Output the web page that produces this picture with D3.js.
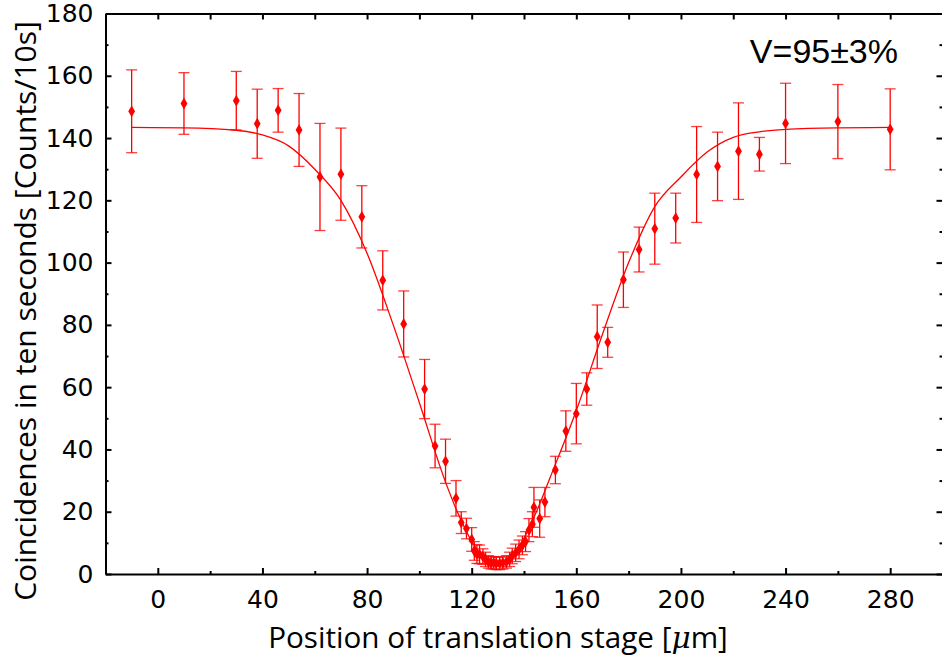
<!DOCTYPE html>
<html>
<head>
<meta charset="utf-8">
<script src="https://cdn.jsdelivr.net/npm/d3@7"></script>
<style>
    body { margin: 0; background: #fff; }
    .tick-label { font-family: 'DejaVu Sans', sans-serif; font-size: 25px; fill: #000; }
    .axis-title { font-family: 'Open Sans', 'DejaVu Sans', sans-serif; fill: #000; }
</style>
</head>
<body>
<div id="chart"></div>
<script>
// measured points: stage position [um], coincidences, error
const position = [-10, 10, 30, 38, 46, 54, 62, 70, 78, 86, 94, 102, 106, 110, 114, 116, 118, 120,
    121, 122, 123, 124.3, 125.3, 126.4, 127.4, 128.4, 129.4, 130.7, 131.9, 133.3, 134.5, 135.5,
    136.8, 138.1, 139.4, 140.6, 141.9, 143.2, 143.8, 146, 148, 152, 156, 160, 164, 168, 172, 178,
    184, 190, 198, 206, 214, 222, 230, 240, 260, 280];
const counts = [148.6, 151.1, 152.0, 144.6, 148.9, 142.6, 127.5, 128.4, 114.7, 94.3, 80.3, 59.4, 41.1, 36.2, 24.3, 16.5, 14.6, 11.1,
    7.4, 6.4, 6.3, 5.6, 4.7, 3.9, 3.6, 3.6, 3.4, 3.4, 3.6, 3.9, 4.7, 5.8,
    6.8, 7.9, 9.2, 10.4, 14.1, 16.0, 21.4, 17.8, 23.1, 33.4, 45.9, 51.5, 59.4, 76.2, 74.4, 94.5,
    104.2, 110.9, 114.3, 128.3, 130.9, 135.8, 134.8, 144.7, 145.3, 142.8];
const countErr = [13.3, 9.9, 9.4, 11.1, 7.0, 11.7, 17.2, 14.8, 10.0, 9.5, 10.6, 9.5, 7.0, 7.1, 5.7, 3.5, 3.3, 3.8,
    3.0, 3.0, 3.0, 2.5, 2.3, 2.0, 2.0, 2.0, 2.0, 2.0, 2.0, 2.0, 2.3, 2.5,
    2.8, 3.0, 3.0, 3.2, 3.7, 4.0, 6.4, 6.0, 4.7, 4.4, 6.5, 9.7, 5.2, 10.2, 4.8, 8.9,
    7.2, 11.4, 8.0, 15.4, 11.0, 15.5, 5.4, 12.9, 11.9, 13.0];

// fitted curve
const fitX = [-10, 10, 30, 40, 50, 60, 70, 80, 90, 100, 110, 115, 120, 125, 130, 135, 140, 145, 150,
    160, 170, 180, 190, 200, 210, 220, 230, 240, 260, 280];
const fitY = [143.4, 143.3, 142.5, 141.0, 137.5, 130.0, 120.0, 103.0, 80.0, 55.0, 29.5, 19.0, 10.5, 5.2, 3.8, 5.8, 11.5, 20.5, 31.0,
    52.5, 77.0, 100.0, 118.0, 127.5, 135.5, 140.2, 142.0, 142.8, 143.3, 143.4];

const xTicks = [0, 40, 80, 120, 160, 200, 240, 280];
const yTicks = [0, 20, 40, 60, 80, 100, 120, 140, 160, 180];
const annotation = 'V=95\u00B13%';

const width = 942, height = 662;
const x0 = 105.5, x1 = 942.5, yTop = 13.5, yBottom = 574;

const svg = d3.select('#chart').append('svg')
    .attr('width', width)
    .attr('height', height);

const xScale = d3.scaleLinear().domain([-20, 300]).range([x0, x1]);
const yScale = d3.scaleLinear().domain([0, 180]).range([yBottom, yTop]);

// axes, ticks pointing inward
const minorX = d3.range(20, 300, 40);
const minorY = d3.range(10, 180, 20);

function styleAxis(g) {
    g.select('.domain').attr('stroke', '#000').attr('stroke-width', 2);
    g.selectAll('.tick line').attr('stroke', '#000').attr('stroke-width', 2);
    g.selectAll('.tick text').attr('class', 'tick-label').attr('fill', null);
}

svg.append('g')
    .attr('transform', `translate(0,${yBottom})`)
    .call(d3.axisBottom(xScale).tickValues(xTicks).tickSizeInner(-6).tickSizeOuter(0).tickPadding(16))
    .call(styleAxis)
    .call(g => g.selectAll('.tick text').attr('dy', '0.71em'));

svg.append('g')
    .attr('transform', `translate(0,${yBottom})`)
    .call(d3.axisBottom(xScale).tickValues(minorX).tickSize(-3).tickFormat(''))
    .call(styleAxis)
    .call(g => g.select('.domain').remove());

svg.append('g')
    .attr('transform', `translate(0,${yTop})`)
    .call(d3.axisTop(xScale).tickValues(xTicks.concat(minorX)).tickSizeInner(-6).tickSizeOuter(0).tickFormat(''))
    .call(styleAxis);

svg.append('g')
    .attr('transform', `translate(${x0},0)`)
    .call(d3.axisLeft(yScale).tickValues(yTicks).tickSizeInner(-6).tickSizeOuter(0).tickPadding(12))
    .call(styleAxis);

svg.append('g')
    .attr('transform', `translate(${x0},0)`)
    .call(d3.axisLeft(yScale).tickValues(minorY).tickSize(-3).tickFormat(''))
    .call(styleAxis)
    .call(g => g.select('.domain').remove());

svg.append('g')
    .attr('transform', `translate(${x1},0)`)
    .call(d3.axisRight(yScale).tickValues(yTicks).tickSizeInner(-6).tickSizeOuter(0).tickFormat(''))
    .call(styleAxis);

svg.append('g')
    .attr('transform', `translate(${x1},0)`)
    .call(d3.axisRight(yScale).tickValues(minorY).tickSize(-3).tickFormat(''))
    .call(styleAxis)
    .call(g => g.select('.domain').remove());

// fit curve
const fitData = fitX.map((d, i) => ({x: d, y: fitY[i]}));
svg.append('path')
    .datum(fitData)
    .attr('fill', 'none')
    .attr('stroke', '#ff0000')
    .attr('stroke-width', 1.3)
    .attr('d', d3.line().x(d => xScale(d.x)).y(d => yScale(d.y)).curve(d3.curveMonotoneX));

// error bars + points
const data = position.map((d, i) => ({x: d, y: counts[i], e: countErr[i]}));
const capW = 5.5;

const bars = svg.append('g').attr('stroke', '#ff0000').attr('stroke-width', 1.3);
bars.selectAll('.err')
    .data(data)
    .join('line')
    .attr('class', 'err')
    .attr('x1', d => xScale(d.x)).attr('x2', d => xScale(d.x))
    .attr('y1', d => yScale(d.y + d.e)).attr('y2', d => yScale(d.y - d.e));
bars.selectAll('.cap-top')
    .data(data)
    .join('line')
    .attr('class', 'cap-top')
    .attr('stroke-opacity', 0.75)
    .attr('x1', d => xScale(d.x) - capW).attr('x2', d => xScale(d.x) + capW)
    .attr('y1', d => yScale(d.y + d.e)).attr('y2', d => yScale(d.y + d.e));
bars.selectAll('.cap-bottom')
    .data(data)
    .join('line')
    .attr('class', 'cap-bottom')
    .attr('stroke-opacity', 0.75)
    .attr('x1', d => xScale(d.x) - capW).attr('x2', d => xScale(d.x) + capW)
    .attr('y1', d => yScale(d.y - d.e)).attr('y2', d => yScale(d.y - d.e));

svg.append('g').selectAll('path')
    .data(data)
    .join('path')
    .attr('d', d3.symbol().type(d3.symbolDiamond).size(40))
    .attr('transform', d => `translate(${xScale(d.x)},${yScale(d.y)})`)
    .attr('fill', '#ff0000');

// titles, scaled to the measured widths
function fitWidth(sel, target) {
    const w = sel.node().getComputedTextLength();
    const fs = parseFloat(sel.style('font-size'));
    sel.style('font-size', (fs * target / w) + 'px');
}

const xTitle = svg.append('text')
    .attr('class', 'axis-title')
    .attr('x', 498)
    .attr('y', 648)
    .attr('text-anchor', 'middle')
    .style('font-size', '28px');
xTitle.append('tspan').text('Position of translation stage [');
xTitle.append('tspan').style('font-style', 'italic').style('font-family', "'DejaVu Serif', serif").text('\u03BC');
xTitle.append('tspan').text('m]');
fitWidth(xTitle, 460);

const yTitle = svg.append('text')
    .attr('class', 'axis-title')
    .attr('transform', 'translate(36,311) rotate(-90)')
    .attr('text-anchor', 'middle')
    .style('font-size', '28px')
    .text('Coincidences in ten seconds [Counts/10s]');
fitWidth(yTitle, 580);

svg.append('text')
    .attr('x', 898)
    .attr('y', 63)
    .attr('text-anchor', 'end')
    .style('font-family', "'Liberation Sans', Arial, sans-serif")
    .style('font-size', '34px')
    .text(annotation);
</script>
</body>
</html>
